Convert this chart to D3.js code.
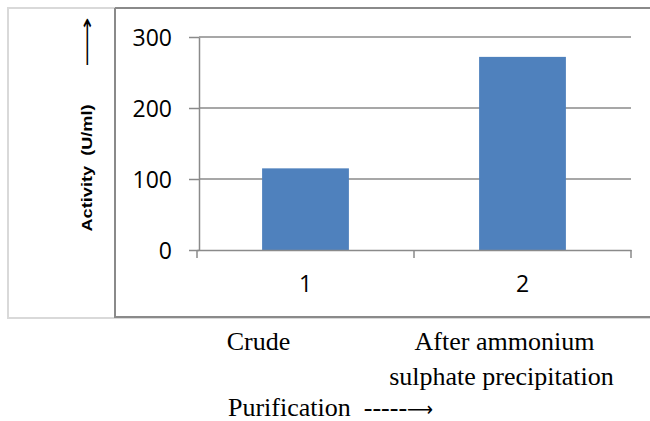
<!DOCTYPE html>
<html>
<head>
<meta charset="utf-8">
<script src="https://cdn.jsdelivr.net/npm/d3@7"></script>
<style>
  body { margin: 0; background: #fff; }
  svg { display: block; }
  text { white-space: pre; }
</style>
</head>
<body>
<svg id="chart" width="650" height="421"></svg>
<script>
// ---- data ----
const categories = ["1", "2"];
const activity = [115, 272];
const yTicks = [0, 100, 200, 300];
const yLabel = "Activity  (U/ml)";
const catNames = [["Crude"], ["After ammonium", "sulphate precipitation"]];
const xTitle = "Purification  -----";

const svg = d3.select("#chart");
const grid = "#8a8a8a";

// frames
svg.append("rect").attr("x", 8).attr("y", 8).attr("width", 660).attr("height", 310)
  .attr("fill", "none").attr("stroke", "#d9d9d9").attr("stroke-width", 2);
svg.append("path").attr("d", "M115,8 V317 H660 M115,8 H660")
  .attr("fill", "none").attr("stroke", grid).attr("stroke-width", 2);

// scales
const y = d3.scaleLinear().domain([0, 300]).range([250, 37]);
const x = d3.scaleBand().domain(categories).range([197, 631]).paddingInner(0.6).paddingOuter(0.3);

// gridlines
svg.append("g").selectAll("line").data(yTicks.filter(d => d > 0)).join("line")
  .attr("x1", 199).attr("x2", 631)
  .attr("y1", d => y(d)).attr("y2", d => y(d))
  .attr("stroke", grid).attr("stroke-width", 1.5);

// bars
svg.append("g").selectAll("rect").data(categories).join("rect")
  .attr("x", d => x(d))
  .attr("width", x.bandwidth())
  .attr("y", (d, i) => y(activity[i]))
  .attr("height", (d, i) => y(0) - y(activity[i]))
  .attr("fill", "#4f81bd");

const sans = "'Open Sans', 'Liberation Sans', sans-serif";
// y axis
const yAxis = svg.append("g").attr("transform", "translate(199,0)")
  .call(d3.axisLeft(y).tickValues(yTicks).tickSize(10).tickPadding(17).tickSizeOuter(0));
yAxis.select(".domain").attr("stroke", grid).attr("stroke-width", 1.5);
yAxis.selectAll(".tick line").attr("stroke", grid).attr("stroke-width", 1.5);
yAxis.selectAll(".tick text").attr("font-family", sans)
  .attr("font-size", 23).attr("fill", "#000").attr("dy", "0.36em");

// x axis
const xAxis = svg.append("g").attr("transform", "translate(0,250)")
  .call(d3.axisBottom(x).tickSize(0).tickPadding(26).tickSizeOuter(0));
xAxis.select(".domain").attr("stroke", grid).attr("stroke-width", 1.5);
xAxis.selectAll(".tick text").attr("font-family", sans)
  .attr("font-size", 23).attr("fill", "#000");
const bounds = [0, 1, 2].map(i => x(categories[0]) + x.bandwidth() / 2 - x.step() / 2 + i * x.step());
xAxis.selectAll("line.bound").data(bounds).join("line").attr("class", "bound")
  .attr("x1", d => d).attr("x2", d => d).attr("y1", 0).attr("y2", 8)
  .attr("stroke", grid).attr("stroke-width", 1.5);

// y label with arrow
svg.append("text").attr("transform", "translate(92,168) rotate(-90)")
  .attr("text-anchor", "middle").attr("font-family", "'Liberation Sans', sans-serif")
  .attr("font-weight", "bold").attr("font-size", 15)
  .attr("textLength", 127).attr("lengthAdjust", "spacingAndGlyphs")
  .text(yLabel);
svg.append("text").attr("transform", "translate(93,42) rotate(-90)")
  .attr("text-anchor", "middle").attr("font-family", "'DejaVu Sans', sans-serif")
  .attr("font-size", 18)
  .attr("textLength", 50).attr("lengthAdjust", "spacingAndGlyphs")
  .text("\u27F6");

// category names below chart
const serif = "'Liberation Serif', 'Times New Roman', serif";
catNames.forEach((lines, i) => {
  const cx = x(categories[i]) + x.bandwidth() / 2;
  lines.forEach((t, j) => {
    svg.append("text").attr("x", i === 0 ? cx - 47 : cx - 18 + (j === 1 ? -3 : 0))
      .attr("y", 350 + j * 35).attr("text-anchor", "middle")
      .attr("font-family", serif).attr("font-size", 26).attr("fill", "#000").text(t);
  });
});
const title = svg.append("text").attr("x", 228).attr("y", 416).attr("font-family", serif)
  .attr("font-size", 26).attr("fill", "#000").text(xTitle);
const tw = title.node().getComputedTextLength();
svg.append("text").attr("x", 228 + tw).attr("y", 416).attr("font-family", "'DejaVu Sans', sans-serif")
  .attr("font-size", 20).attr("fill", "#000")
  .attr("textLength", 26).attr("lengthAdjust", "spacingAndGlyphs").text("\u27F6");
</script>
</body>
</html>
